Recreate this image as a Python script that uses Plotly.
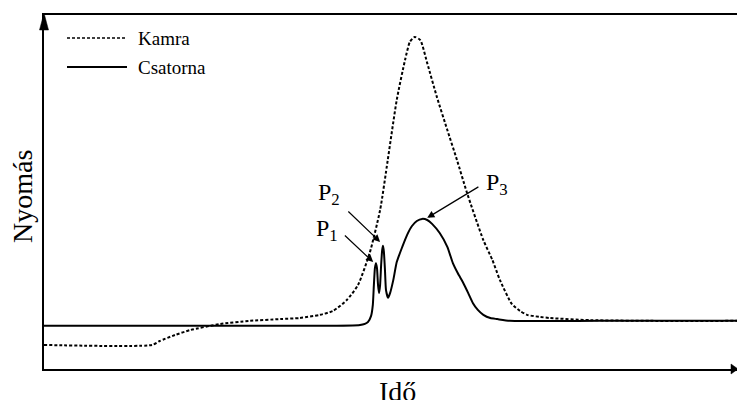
import plotly.graph_objects as go

# Time (arbitrary units, 0-100) and pressure (arbitrary units, 0-100)
kamra_t = [0, 15.6, 16.7, 18.9, 21.1, 25.4, 29.7, 34.1, 36.9, 39.8, 41.7, 43.7, 45.3, 47.0,
           48.5, 49.6, 50.9, 52.1, 52.8, 53.5, 54.3, 55.3, 56.7, 58.2, 59.6, 61.0, 63.4,
           64.7, 65.8, 67.5, 68.7, 69.7, 71.6, 73.0, 78.8, 87.5, 100]
kamra_p = [6.8, 6.8, 7.9, 9.6, 11.0, 12.7, 13.6, 14.1, 14.4, 15.3, 16.4, 19.5, 23.7, 32.8,
           44.9, 59.0, 76.0, 87.3, 92.4, 93.8, 92.9, 86.4, 76.8, 67.5, 59.0, 50.0, 36.4,
           30.8, 25.1, 18.4, 16.4, 15.3, 14.7, 14.4, 13.8, 13.6, 13.6]

csatorna_t = [0, 36.9, 45.6, 46.75, 47.2, 47.45, 47.6, 47.75, 47.9, 48.05, 48.2, 48.35,
              48.5, 48.65, 48.8, 48.92, 49.05, 49.2, 49.35, 49.65, 49.95, 50.4, 50.9,
              51.7, 52.4, 53.1, 53.8, 54.55, 55.3, 56.0, 57.1, 58.2, 59.0, 59.7, 60.5,
              61.2, 61.9, 62.6, 63.4, 64.4, 65.4, 67.2, 80.2, 100]
csatorna_p = [12.2, 12.2, 12.4, 13.3, 15.0, 18.1, 23.7, 28.5, 29.9, 28.5, 23.7, 21.5,
              23.7, 29.4, 33.6, 34.8, 33.0, 28.0, 22.3, 20.1, 21.5, 25.1, 30.2,
              34.5, 37.9, 40.4, 41.8, 42.4, 42.1, 41.0, 38.4, 34.5, 29.9, 27.1, 24.3,
              21.5, 18.6, 16.7, 15.3, 14.4, 14.1, 13.6, 13.6, 13.6]

series_names = ["Kamra", "Csatorna"]
x_title = "Idő"
y_title = "Nyomás"

# Peak labels
peak_labels = ["P<sub>1</sub>", "P<sub>2</sub>", "P<sub>3</sub>"]
peak_head_t = [47.5, 48.5, 55.3]
peak_head_p = [30.2, 35.9, 42.7]
peak_tail_t = [43.2, 43.7, 62.9]
peak_tail_p = [38.1, 44.9, 51.7]
peak_text_t = [40.8, 41.1, 65.4]
peak_text_p = [39.3, 49.4, 52.3]

FONT = "Liberation Serif"

fig = go.Figure()
fig.add_trace(go.Scatter(x=kamra_t, y=kamra_p, mode="lines", name=series_names[0],
                         line=dict(color="black", width=2, dash="3px,2px", shape="spline", smoothing=0.6)))
fig.add_trace(go.Scatter(x=csatorna_t, y=csatorna_p, mode="lines", name=series_names[1],
                         line=dict(color="black", width=2, shape="spline", smoothing=0.5)))

annotations = []
for lab, ht, hp, tt, tp, xt, yp in zip(peak_labels, peak_head_t, peak_head_p, peak_tail_t,
                                       peak_tail_p, peak_text_t, peak_text_p):
    annotations.append(dict(x=ht, y=hp, ax=tt, ay=tp, xref="x", yref="y", axref="x", ayref="y",
                            text="", showarrow=True, arrowhead=2, arrowsize=1.2, arrowwidth=1.2,
                            arrowcolor="black"))
    annotations.append(dict(x=xt, y=yp, xref="x", yref="y", text=lab, showarrow=False,
                            xanchor="center", yanchor="middle",
                            font=dict(family=FONT, size=24, color="black")))

W, H = 693.0, 354.0
def px(xp):
    return (xp - 44) / W
def py(yp):
    return (369 - yp) / H

# axis titles
annotations.append(dict(x=px(22), y=py(197), xref="paper", yref="paper", text=y_title,
                        textangle=-90, showarrow=False, xanchor="center", yanchor="middle",
                        font=dict(family=FONT, size=28, color="black")))
annotations.append(dict(x=px(397), y=py(391), xref="paper", yref="paper", text=x_title,
                        showarrow=False, xanchor="center", yanchor="middle",
                        font=dict(family=FONT, size=28, color="black")))

annotations.append(dict(x=px(136), y=py(38), xref="paper", yref="paper", text=series_names[0],
                        xanchor="left", yanchor="middle", showarrow=False,
                        font=dict(family=FONT, size=19, color="black")))
annotations.append(dict(x=px(136), y=py(67), xref="paper", yref="paper", text=series_names[1],
                        xanchor="left", yanchor="middle", showarrow=False,
                        font=dict(family=FONT, size=19, color="black")))

shapes = [
    dict(type="line", xref="paper", yref="paper", x0=px(67), x1=px(127), y0=py(38), y1=py(38),
         line=dict(color="black", width=1.5, dash="3px,2px")),
    dict(type="line", xref="paper", yref="paper", x0=px(67), x1=px(127), y0=py(67), y1=py(67),
         line=dict(color="black", width=2)),
    dict(type="path", xref="paper", yref="paper",
         path=f"M {px(44)} {py(13)} L {px(39.5)} {py(30)} L {px(48.5)} {py(30)} Z",
         fillcolor="black", line=dict(color="black", width=0.5)),
    dict(type="path", xref="paper", yref="paper",
         path=f"M {px(738)} {py(369)} L {px(731)} {py(364)} L {px(731)} {py(374)} Z",
         fillcolor="black", line=dict(color="black", width=0.5)),
]

fig.update_layout(
    width=737, height=400,
    margin=dict(l=44, r=0, t=15, b=31),
    paper_bgcolor="white", plot_bgcolor="white",
    showlegend=False,
    font=dict(family=FONT),
    annotations=annotations,
    shapes=shapes,
    xaxis=dict(range=[0, 100], showgrid=False, zeroline=False, showticklabels=False, ticks="",
               showline=True, mirror=True, linecolor="black", linewidth=2),
    yaxis=dict(range=[0, 100], showgrid=False, zeroline=False, showticklabels=False, ticks="",
               showline=True, mirror=False, linecolor="black", linewidth=2),
)

fig.write_html("out.html")
